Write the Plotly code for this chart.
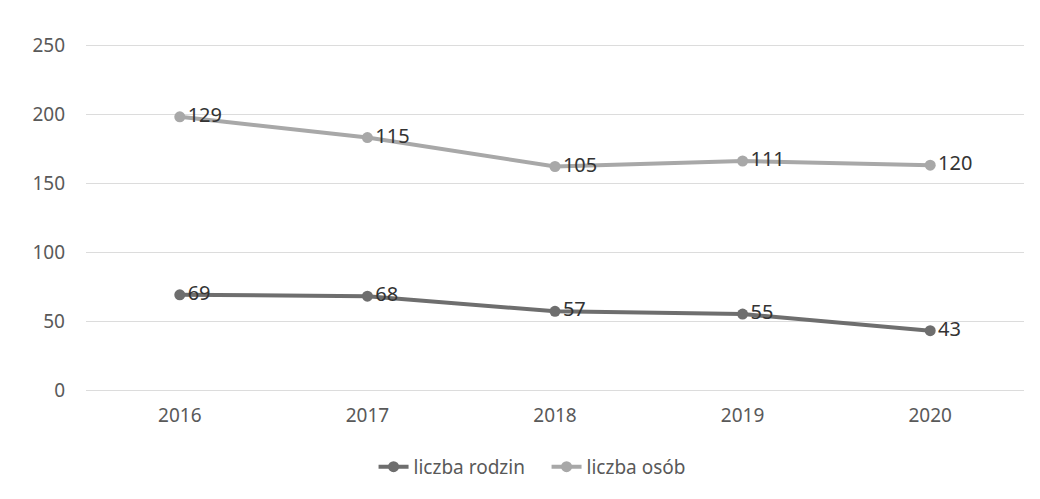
import plotly.graph_objects as go

years = ["2016", "2017", "2018", "2019", "2020"]
liczba_rodzin = [69, 68, 57, 55, 43]
liczba_osob = [129, 115, 105, 111, 120]
y_ticks = [0, 50, 100, 150, 200, 250]

fig = go.Figure()
fig.add_trace(go.Scatter(
    x=years, y=liczba_rodzin, name="liczba rodzin", stackgroup="one", fill="none",
    mode="lines+markers+text", text=[str(v) for v in liczba_rodzin],
    textposition="middle right", textfont=dict(size=20, color="#333333"),
    line=dict(color="#6e6e6e", width=4), marker=dict(size=11, color="#6e6e6e"),
))
fig.add_trace(go.Scatter(
    x=years, y=liczba_osob, name="liczba osób", stackgroup="one", fill="none",
    mode="lines+markers+text", text=[str(v) for v in liczba_osob],
    textposition="middle right", textfont=dict(size=20, color="#333333"),
    line=dict(color="#a8a8a8", width=4), marker=dict(size=11, color="#a8a8a8"),
))

fig.update_layout(
    width=1032, height=491,
    margin=dict(l=78, r=16, t=36, b=109, autoexpand=False),
    paper_bgcolor="white", plot_bgcolor="white",
    font=dict(family="Noto Sans", color="#595959", size=19),
    showlegend=True,
    legend=dict(orientation="h", x=0.491, xanchor="center", y=-0.222, yanchor="middle",
                traceorder="normal", entrywidth=128, entrywidthmode="pixels",
                font=dict(size=19, color="#595959")),
    xaxis=dict(type="category", range=[-0.5, 4.5], showgrid=False, showline=False,
               ticks="", ticklabelstandoff=12, automargin=False,
               tickfont=dict(size=19, color="#595959")),
    yaxis=dict(range=[0, 250.8], tickvals=y_ticks, showgrid=True, gridcolor="#dcdcdc",
               gridwidth=1, zeroline=True, zerolinecolor="#dcdcdc", zerolinewidth=1,
               showline=False, ticks="", ticklabelstandoff=20, automargin=False,
               tickfont=dict(size=19, color="#595959")),
)

fig.write_html("out.html")
